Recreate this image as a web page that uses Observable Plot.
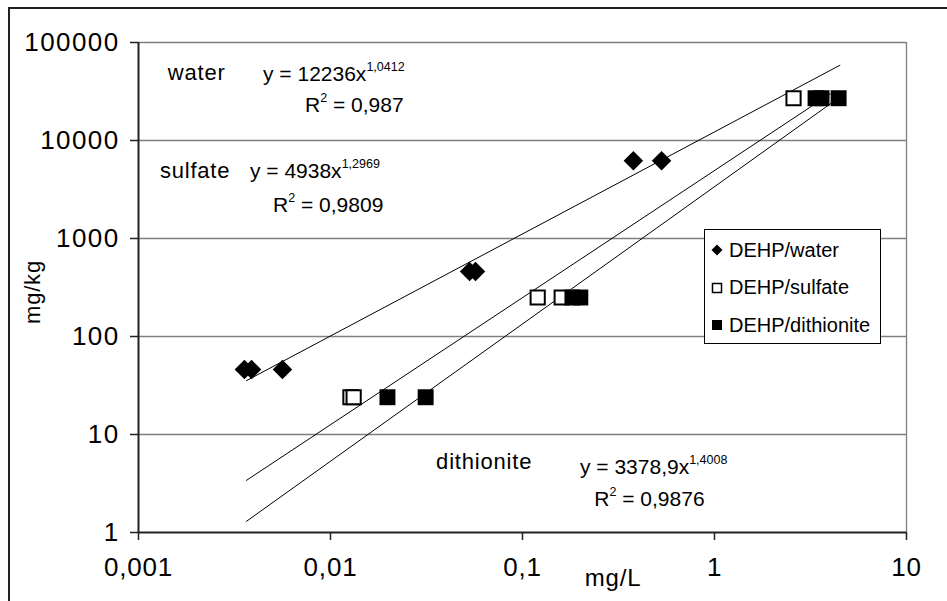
<!DOCTYPE html>
<html>
<head>
<meta charset="utf-8">
<script src="https://cdn.jsdelivr.net/npm/d3@7"></script>
<script src="https://cdn.jsdelivr.net/npm/@observablehq/plot@0.6"></script>
<style>
  html, body { margin: 0; padding: 0; background: #fff; }
  #wrap { position: relative; width: 947px; height: 601px; overflow: hidden; font-family: "Liberation Sans", Arial, sans-serif; }
  #frame { position: absolute; left: 8px; top: 7px; width: 1200px; height: 900px; border-left: 2px solid #222; border-top: 2px solid #222; }
  #chart { position: absolute; left: 0; top: 0; }
  #legend { position: absolute; left: 704px; top: 229px; width: 177px; height: 115px; box-sizing: border-box;
            border: 1px solid #000; background: #fff; font-size: 20px; color: #000; }
  #legend .row { position: absolute; left: 0; height: 24px; display: flex; align-items: center; }
  #legend svg { display: block; margin-left: 6px; margin-right: 6px; }
</style>
</head>
<body>
<div id="wrap">
  <div id="frame"></div>
  <div id="chart"></div>
  <div id="legend"></div>
</div>
<script>
// Measured concentrations: water phase (mg/L) against solid phase (mg/kg)
const waterX = [0.00356, 0.00388, 0.00562, 0.0530, 0.0569, 0.378, 0.530];
const waterY = [46, 46, 46, 460, 460, 6200, 6200];
const sulfateX = [0.0127, 0.0132, 0.120, 0.160, 2.58];
const sulfateY = [24, 24, 250, 250, 27000];
const dithioniteX = [0.0198, 0.0313, 0.182, 0.200, 3.36, 3.61, 4.43];
const dithioniteY = [24, 24, 250, 250, 27000, 27000, 27000];

// Power-law trendlines y = a·x^b
const fitNames = ["water", "sulfate", "dithionite"];
const fitCoef = [12236, 4938, 3378.9];
const fitExp = [1.0412, 1.2969, 1.4008];
const fitCoefText = ["12236", "4938", "3378,9"];
const fitExpText = ["1,0412", "1,2969", "1,4008"];
const fitR2Text = ["0,987", "0,9809", "0,9876"];
const fitFrom = [0.00365, 0.00365, 0.00365];
const fitTo = [4.5, 4.0, 4.5];

// Axis ticks
const xTicks = [0.001, 0.01, 0.1, 1, 10];
const xTickLabels = ["0,001", "0,01", "0,1", "1", "10"];
const yTicks = [1, 10, 100, 1000, 10000, 100000];
const yTickLabels = ["1", "10", "100", "1000", "10000", "100000"];

// Legend entries
const legendLabels = ["DEHP/water", "DEHP/sulfate", "DEHP/dithionite"];

const toPoints = (xs, ys) => xs.map((x, i) => ({x, y: ys[i]}));
const water = toPoints(waterX, waterY);
const sulfate = toPoints(sulfateX, sulfateY);
const dithionite = toPoints(dithioniteX, dithioniteY);

const fitLines = fitNames.flatMap((name, i) => [fitFrom[i], fitTo[i]].map(x => ({
  name, x, y: fitCoef[i] * Math.pow(x, fitExp[i])
})));

const chart = Plot.plot({
  width: 947,
  height: 601,
  marginLeft: 138,
  marginRight: 41,
  marginTop: 42,
  marginBottom: 69,
  style: { fontFamily: "Liberation Sans, Arial, sans-serif", fontSize: "26px", letterSpacing: "0.8px",
           background: "transparent", color: "#000" },
  x: { type: "log", domain: [0.001, 10] },
  y: { type: "log", domain: [1, 100000] },
  marks: [
    Plot.ruleY(yTicks.slice(1), { stroke: "#7f7f7f", strokeWidth: 1.3 }),
    Plot.ruleX([10], { stroke: "#7f7f7f", strokeWidth: 1.3 }),
    Plot.axisY({ ticks: yTicks, tickFormat: d => yTickLabels[yTicks.indexOf(d)], tickSize: 8, tickPadding: 11,
                 stroke: "#222", strokeWidth: 1.5, fontSize: 26, label: null }),
    Plot.axisX({ ticks: xTicks, tickFormat: d => xTickLabels[xTicks.indexOf(d)], tickSize: 8, tickPadding: 17,
                 stroke: "#222", strokeWidth: 1.5, fontSize: 26, label: null }),
    Plot.ruleX([0.001], { stroke: "#222", strokeWidth: 2 }),
    Plot.ruleY([1], { stroke: "#222", strokeWidth: 2 }),
    Plot.line(fitLines, { x: "x", y: "y", z: "name", stroke: "#000", strokeWidth: 1 }),
    Plot.dot(water, { x: "x", y: "y", symbol: "diamond2", fill: "#000", r: 8.8 }),
    Plot.dot(sulfate, { x: "x", y: "y", symbol: "square", fill: "#fff", stroke: "#000", strokeWidth: 2, r: 8.0 }),
    Plot.dot(dithionite, { x: "x", y: "y", symbol: "square", fill: "#000", r: 9.0 })
  ]
});
document.getElementById("chart").appendChild(chart);

const svg = d3.select(chart);
svg.selectAll('g[aria-label="y-axis tick label"]').attr("letter-spacing", "1.4px");

// Axis titles and equation labels, placed through the chart's own scales
const sx = chart.scale("x"), sy = chart.scale("y");
const ann = svg.append("g").attr("font-family", "Liberation Sans, Arial, sans-serif")
  .attr("fill", "#000").attr("text-anchor", "start");

ann.append("text").attr("x", 613).attr("y", 586).attr("text-anchor", "middle").attr("font-size", 24).text("mg/L");
ann.append("text").attr("transform", "translate(40,292) rotate(-90)").attr("text-anchor", "middle")
  .attr("font-size", 22).text("mg/kg");

// label anchors in data units: [name x, name y, equation x, equation y, R² x, R² y]
const labelAnchors = [
  [0.00143, 40900, 0.00448, 40000, 0.00741, 19300],
  [0.00130, 4100, 0.00383, 4100, 0.00505, 1840],
  [0.0357, 4.4, 0.2005, 3.9, 0.238, 1.84]
];
fitNames.forEach((name, i) => {
  const a = labelAnchors[i];
  ann.append("text").attr("x", sx.apply(a[0])).attr("y", sy.apply(a[1])).attr("font-size", 22).text(name);
  const eq = ann.append("text").attr("x", sx.apply(a[2])).attr("y", sy.apply(a[3]))
    .attr("font-size", 21).attr("letter-spacing", "0px");
  eq.append("tspan").text(`y = ${fitCoefText[i]}x`);
  eq.append("tspan").attr("font-size", 12.5).attr("dy", -10).text(fitExpText[i]);
  const r2 = ann.append("text").attr("x", sx.apply(a[4])).attr("y", sy.apply(a[5]))
    .attr("font-size", 21).attr("letter-spacing", "0px");
  r2.append("tspan").text("R");
  r2.append("tspan").attr("font-size", 12.5).attr("dy", -10).text("2");
  r2.append("tspan").attr("dy", 10).text(` = ${fitR2Text[i]}`);
});

// Legend
const legend = document.getElementById("legend");
const legendSymbols = [
  '<svg width="12" height="12"><path d="M6 0.5L11.5 6L6 11.5L0.5 6Z" fill="#000"/></svg>',
  '<svg width="12" height="12"><rect x="1.5" y="1.5" width="9" height="9" fill="#fff" stroke="#000" stroke-width="1.5"/></svg>',
  '<svg width="12" height="12"><rect x="1" y="1" width="10" height="10" fill="#000"/></svg>'
];
legendLabels.forEach((label, i) => {
  const row = document.createElement("div");
  row.className = "row";
  row.style.top = (8 + i * 37.5) + "px";
  row.innerHTML = legendSymbols[i] + "<span>" + label + "</span>";
  legend.appendChild(row);
});
</script>
</body>
</html>
